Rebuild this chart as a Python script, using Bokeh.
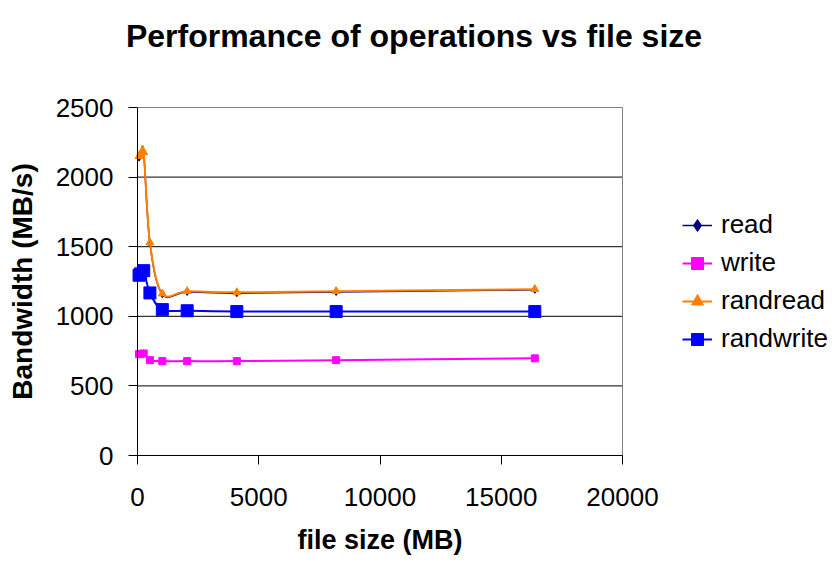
from bokeh.plotting import figure
from bokeh.models import FixedTicker, Legend, LegendItem, Range1d, Label
from bokeh.embed import file_html
from bokeh.resources import INLINE

# ---- data ----
file_size = [64, 128, 256, 512, 1024, 2048, 4096, 8192, 16384]
read = [2140, 2160, 2172, 1525, 1158, 1175, 1166, 1175, 1190]
write = [728, 730, 733, 685, 678, 678, 678, 685, 698]
randread = [2150, 2168, 2178, 1530, 1163, 1180, 1172, 1180, 1195]
randwrite = [1295, 1305, 1328, 1168, 1048, 1040, 1034, 1034, 1034]
x_ticks = [0, 5000, 10000, 15000, 20000]
y_ticks = [0, 500, 1000, 1500, 2000, 2500]
y_grid = [500, 1000, 1500, 2000]

TITLE = "Performance of operations vs file size"
X_LABEL = "file size (MB)"
Y_LABEL = "Bandwidth (MB/s)"

FONT = "Liberation Sans"

# ---- layout (pixels) ----
W, H = 837, 562
LEFT, RIGHT_EDGE, TOP, BOTTOM = 137, 622, 107, 455   # chart plot area
px_x = (RIGHT_EDGE - LEFT) / (x_ticks[-1] - x_ticks[0])
px_y = (BOTTOM - TOP) / (y_ticks[-1] - y_ticks[0])


def dx(px):
    return x_ticks[0] + (px - LEFT) / px_x


def dy(py):
    return y_ticks[0] + (BOTTOM - py) / px_y


p = figure(width=W, height=H, output_backend="svg", toolbar_location=None,
           title_location=None,
           x_range=Range1d(dx(0), dx(W)), y_range=Range1d(dy(H), dy(0)),
           min_border_left=0, min_border_right=0, min_border_top=0,
           min_border_bottom=0)

p.background_fill_color = "white"
p.border_fill_color = "white"
p.outline_line_color = None

p.xaxis.ticker = FixedTicker(ticks=x_ticks)
p.yaxis.ticker = FixedTicker(ticks=y_ticks)
p.xaxis.bounds = (x_ticks[0], x_ticks[-1])
p.yaxis.bounds = (y_ticks[0], y_ticks[-1])
p.xaxis.fixed_location = y_ticks[0]
p.yaxis.fixed_location = x_ticks[0]
p.xgrid.visible = False
p.ygrid.visible = False

# horizontal grid lines and plot-area border
n = len(y_grid)
p.segment(x0=[x_ticks[0]] * n, x1=[x_ticks[-1]] * n, y0=y_grid, y1=y_grid,
          line_color="black", line_width=1)
p.segment(x0=[x_ticks[0], x_ticks[-1]], x1=[x_ticks[-1], x_ticks[-1]],
          y0=[y_ticks[-1], y_ticks[0]], y1=[y_ticks[-1], y_ticks[-1]],
          line_color="#808080", line_width=1)

for ax in (p.xaxis[0], p.yaxis[0]):
    ax.axis_line_color = "black"
    ax.axis_line_width = 1
    ax.major_tick_line_color = "black"
    ax.major_tick_out = 9
    ax.major_tick_in = 0
    ax.minor_tick_line_color = None
    ax.major_label_text_font = FONT
    ax.major_label_text_font_size = "26px"
    ax.major_label_text_color = "black"

p.xaxis.major_label_standoff = 23
p.yaxis.major_label_standoff = 15
p.yaxis.axis_label = Y_LABEL
p.yaxis.axis_label_text_font = FONT
p.yaxis.axis_label_text_font_style = "bold"
p.yaxis.axis_label_text_color = "black"
p.yaxis.axis_label_text_font_size = "28px"
p.yaxis.axis_label_standoff = 15

# title and x-axis label
p.add_layout(Label(x=dx(413.5), y=dy(35), text=TITLE, text_align="center",
                   text_baseline="alphabetic", text_font=FONT, text_font_size="32px",
                   text_font_style="bold", text_color="black"))
p.add_layout(Label(x=(x_ticks[0] + x_ticks[-1]) / 2, y=dy(539), text=X_LABEL,
                   text_align="center", text_baseline="alphabetic", text_font=FONT,
                   text_font_size="27px", text_font_style="bold", text_color="black"))


def smooth_segments(xs, ys):
    """Catmull-Rom style bezier segments through the data points (Excel smoothed line)."""
    m = len(xs)
    x0, y0, x1, y1, cx0, cy0, cx1, cy1 = [], [], [], [], [], [], [], []
    for i in range(m - 1):
        xa, ya = xs[i], ys[i]
        xb, yb = xs[i + 1], ys[i + 1]
        xp, yp = (xs[i - 1], ys[i - 1]) if i > 0 else (xa, ya)
        xn, yn = (xs[i + 2], ys[i + 2]) if i + 2 < m else (xb, yb)
        x0.append(xa); y0.append(ya); x1.append(xb); y1.append(yb)
        cx0.append(xa + (xb - xp) / 6.0); cy0.append(ya + (yb - yp) / 6.0)
        cx1.append(xb - (xn - xa) / 6.0); cy1.append(yb - (yn - ya) / 6.0)
    return dict(x0=x0, y0=y0, x1=x1, y1=y1, cx0=cx0, cy0=cy0, cx1=cx1, cy1=cy1)


series = [
    ("read", read, "#000080", "diamond", 7, 1.5),
    ("write", write, "#FF00FF", "square", 7, 2),
    ("randread", randread, "#FF7F00", "triangle", 8, 2),
    ("randwrite", randwrite, "#0000FF", "square", 12, 2),
]

items = []
for name, ys, color, marker, size, lw in series:
    seg = smooth_segments(file_size, ys)
    lr = p.bezier(line_color=color, line_width=lw, **seg)
    sr = p.scatter(file_size, ys, marker=marker, size=size, fill_color=color, line_color=color)
    items.append(LegendItem(label=name, renderers=[lr, sr]))

legend = Legend(items=items, location=(682, 208))
legend.label_text_font = FONT
legend.label_text_font_size = "26px"
legend.label_text_color = "black"
legend.glyph_width = 30
legend.glyph_height = 30
legend.label_height = 30
legend.label_standoff = 9
legend.spacing = 7
legend.padding = 0
legend.margin = 0
legend.border_line_color = None
legend.background_fill_alpha = 0
p.add_layout(legend, "center")

open("out.html", "w").write(file_html(p, INLINE))
